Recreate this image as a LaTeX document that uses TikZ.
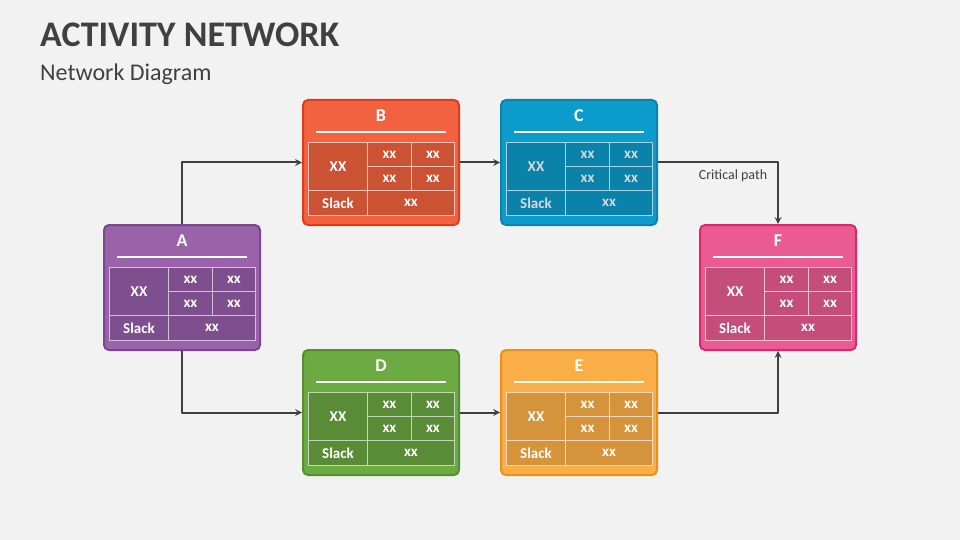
\documentclass[tikz,border=0pt]{standalone}
\usepackage{fontspec}
\setmainfont{Carlito}
\definecolor{bgcol}{HTML}{F2F2F2}
\definecolor{inkcol}{HTML}{404040}
% box colours: fill, cells, border
\definecolor{aFill}{HTML}{9A62A8}\definecolor{aCell}{HTML}{7F4E8E}\definecolor{aLine}{HTML}{7B4590}
\definecolor{bFill}{HTML}{F26140}\definecolor{bCell}{HTML}{CC5234}\definecolor{bLine}{HTML}{DC3D1B}
\definecolor{cFill}{HTML}{0C9CCC}\definecolor{cCell}{HTML}{0A82AA}\definecolor{cLine}{HTML}{0A84AD}
\definecolor{dFill}{HTML}{6CAA42}\definecolor{dCell}{HTML}{5A8C37}\definecolor{dLine}{HTML}{548F34}
\definecolor{eFill}{HTML}{F9AE48}\definecolor{eCell}{HTML}{D5933B}\definecolor{eLine}{HTML}{EE8F14}
\definecolor{fFill}{HTML}{EA5B91}\definecolor{fCell}{HTML}{C44D7A}\definecolor{fLine}{HTML}{D8296B}
\tikzset{
  boxshape/.style={rounded corners=5pt, line width=2pt, minimum width=156pt, minimum height=125pt, inner sep=0pt},
  boxtitle/.style={text=white, font=\fontsize{18}{20}\selectfont\bfseries, inner sep=0pt},
  celltext/.style={font=\fontsize{15}{17}\selectfont\bfseries, inner sep=0pt},
  smalltext/.style={font=\fontsize{15}{17}\selectfont\bfseries, inner sep=0pt},
  conn/.style={->, draw=inkcol, line width=2pt},
}
% name, x, y, letter, fill, cells, border, cell text
\newcommand\actbox[8]{%
\begin{scope}[shift={(#2,#3)}]
\node[boxshape, fill=#5, draw=#7] (#1) at (78,62.5) {};
\node[boxtitle] (#1-title) at (78,16) {#4};
\draw[white, line width=1.2pt] (13,32) -- (143,32);
\filldraw[fill=#6, draw=white!65!#6, line width=0.9pt] (5.5,42.5) rectangle (151.5,115);
\draw[white!65!#6, line width=0.9pt] (64.5,42.5) -- (64.5,115) (5.5,90.5) -- (151.5,90.5)
  (108.5,42.5) -- (108.5,90.5) (64.5,66.5) -- (151.5,66.5);
\node[celltext, text=#8] (#1-es) at (35,66.5) {XX};
\node[smalltext, text=#8] (#1-a) at (86.5,54.5) {xx};
\node[smalltext, text=#8] (#1-b) at (130,54.5) {xx};
\node[smalltext, text=#8] (#1-c) at (86.5,78.5) {xx};
\node[smalltext, text=#8] (#1-d) at (130,78.5) {xx};
\node[celltext, text=#8] (#1-slack) at (35,103) {Slack};
\node[smalltext, text=#8] (#1-sv) at (108,103) {xx};
\end{scope}}
\begin{document}
\begin{tikzpicture}[x=1pt, y=-1pt, >=stealth, line join=round]
\fill[bgcol] (0,0) rectangle (960,540);
\useasboundingbox (0,0) rectangle (960,540);
\node[anchor=base west, inner sep=0pt, text=inkcol, font=\fontsize{36}{40}\selectfont\bfseries] (title) at (40,47) {ACTIVITY NETWORK};
\node[anchor=base west, inner sep=0pt, text=inkcol, font=\fontsize{24}{28}\selectfont] (subtitle) at (40,81) {Network Diagram};

\actbox{A}{104}{225}{A}{aFill}{aCell}{aLine}{white}
\actbox{B}{303}{100}{B}{bFill}{bCell}{bLine}{white}
\actbox{C}{501}{100}{C}{cFill}{cCell}{cLine}{white!85!black}
\actbox{D}{303}{350}{D}{dFill}{dCell}{dLine}{white}
\actbox{E}{501}{350}{E}{eFill}{eCell}{eLine}{white}
\actbox{F}{700}{225}{F}{fFill}{fCell}{fLine}{white}

\draw[conn] (A.north) |- (B.west);
\draw[conn] (B.east) -- (C.west);
\draw[conn] (C.east) -| (F.north);
\draw[conn] (A.south) |- (D.west);
\draw[conn] (D.east) -- (E.west);
\draw[conn] (E.east) -| (F.south);
\node[text=inkcol, font=\fontsize{14}{16}\selectfont, inner sep=0pt] (crit) at (733,176) {Critical path};
\end{tikzpicture}
\end{document}
